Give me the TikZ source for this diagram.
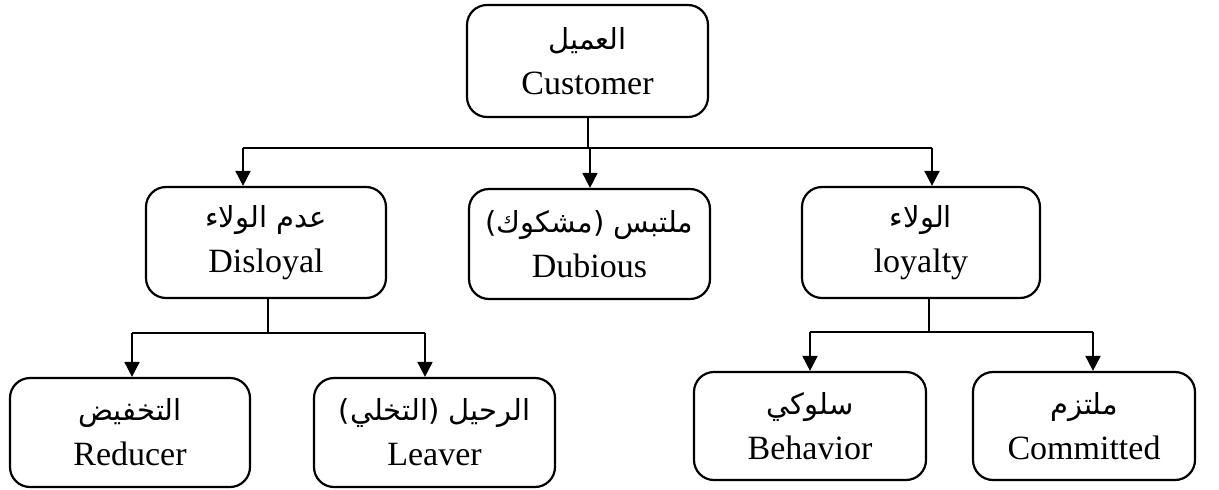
\documentclass[tikz,border=0pt]{standalone}
\usepackage{fontspec}
\setmainfont{Liberation Serif}
\newfontfamily\arabicfont[Script=Arabic]{DejaVu Sans}
\TeXXeTstate=1
\usetikzlibrary{arrows.meta}
\newcommand{\ar}[1]{{\arabicfont\fontsize{29}{34}\selectfont\beginR #1\endR}}
\tikzset{
  box/.style={draw, line width=2.2pt, rounded corners=20pt, align=center, inner sep=0pt,
    font=\fontsize{34}{40}\selectfont},
  conn/.style={line width=1.8pt},
  arr/.style={line width=1.8pt, -{Triangle[length=15pt,width=15pt]}}
}
\begin{document}
\begin{tikzpicture}[x=1pt,y=1pt]
\useasboundingbox (0,0) rectangle (1219,-490);
\node[box, minimum width=241pt, minimum height=112pt] (cust) at (587.5,-61) {\ar{العميل}\\[5pt]Customer};
\node[box, minimum width=240pt, minimum height=111pt] (disl) at (266,-242.5) {\ar{عدم الولاء}\\[5pt]Disloyal};
\node[box, minimum width=241pt, minimum height=110pt] (dub) at (589.5,-244) {\ar{ملتبس (مشكوك)}\\[5pt]Dubious};
\node[box, minimum width=238pt, minimum height=111pt] (loy) at (921,-242.5) {\ar{الولاء}\\[5pt]loyalty};
\node[box, minimum width=240pt, minimum height=109pt] (red) at (130,-432.5) {\ar{التخفيض}\\[5pt]Reducer};
\node[box, minimum width=241pt, minimum height=109pt] (leav) at (434.5,-432.5) {\ar{الرحيل (التخلي)}\\[5pt]Leaver};
\node[box, minimum width=232pt, minimum height=108pt] (beh) at (810,-426) {\ar{سلوكي}\\[5pt]Behavior};
\node[box, minimum width=222pt, minimum height=108pt] (com) at (1084,-426) {\ar{ملتزم}\\[5pt]Committed};
% top branch
\coordinate (t0) at (588,-148);
\coordinate (t1) at (243,-148);
\coordinate (t2) at (590,-148);
\coordinate (t3) at (932,-148);
\draw[conn] (cust.south -| t0) -- (t0);
\draw[conn] (t1) -- (t3);
\draw[arr] (t1) -- (t1 |- disl.north);
\draw[arr] (t2) -- (t2 |- dub.north);
\draw[arr] (t3) -- (t3 |- loy.north);
% disloyal branch
\coordinate (d0) at (268,-333);
\coordinate (d1) at (132,-333);
\coordinate (d2) at (425,-333);
\draw[conn] (disl.south -| d0) -- (d0);
\draw[conn] (d1) -- (d2);
\draw[arr] (d1) -- (d1 |- red.north);
\draw[arr] (d2) -- (d2 |- leav.north);
% loyalty branch
\coordinate (l0) at (929,-332);
\coordinate (l1) at (810,-332);
\coordinate (l2) at (1093,-332);
\draw[conn] (loy.south -| l0) -- (l0);
\draw[conn] (l1) -- (l2);
\draw[arr] (l1) -- (l1 |- beh.north);
\draw[arr] (l2) -- (l2 |- com.north);
\end{tikzpicture}
\end{document}
